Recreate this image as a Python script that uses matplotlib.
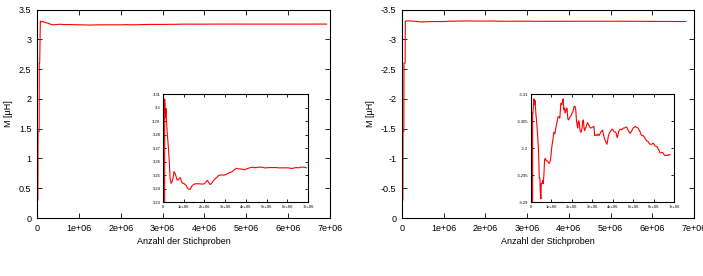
import matplotlib
matplotlib.use("Agg")
import matplotlib.pyplot as plt

plt.rcParams['font.family'] = ['Liberation Sans', 'DejaVu Sans']

# ---- data (x in millions of samples) ----
left_x = [0, 0.003, 0.022, 0.025, 0.052, 0.055, 0.065, 0.08, 0.11, 0.145, 0.177, 0.21, 0.26, 0.31,
          0.34, 0.39, 0.43, 0.48, 0.53, 0.58, 0.63, 0.68, 0.72, 0.79, 0.84, 0.89, 0.95, 1.0, 1.06,
          1.11, 1.17, 1.24, 1.32, 1.37, 1.43, 1.51, 1.59, 1.67, 1.75, 1.85, 1.93, 2.0, 2.08, 2.14,
          2.2, 2.27, 2.33, 2.4, 2.48, 2.54, 2.61, 2.67, 2.77, 2.86, 2.96, 3.06, 3.15, 3.25, 3.35,
          3.44, 3.54, 3.64, 3.73, 3.83, 3.93, 4.02, 4.12, 4.22, 4.31, 4.41, 4.51, 4.6, 4.7, 4.8,
          4.89, 4.99, 5.09, 5.18, 5.28, 5.38, 5.47, 5.57, 5.66, 5.76, 5.86, 5.95, 6.05, 6.15,
          6.24, 6.34, 6.44, 6.53, 6.63, 6.73, 6.82, 6.92]
left_y = [0, 0.3, 0.3, 1.45, 1.45, 2.6, 2.6, 3.3062, 3.2925, 3.2988, 3.2875, 3.28, 3.27, 3.2575,
          3.2475, 3.2438, 3.245, 3.2475, 3.2525, 3.2513, 3.2488, 3.2463, 3.2463, 3.2475, 3.248,
          3.245, 3.2438, 3.2438, 3.243, 3.2425, 3.2405, 3.2395, 3.2395, 3.2413, 3.2425, 3.2433,
          3.2435, 3.2435, 3.2435, 3.2433, 3.2433, 3.2435, 3.245, 3.246, 3.2445, 3.243, 3.2435,
          3.245, 3.2468, 3.2475, 3.2483, 3.2495, 3.25, 3.25, 3.25, 3.2505, 3.2513, 3.252, 3.2525,
          3.2538, 3.255, 3.2545, 3.2545, 3.2543, 3.2538, 3.2545, 3.255, 3.2555, 3.2558, 3.2555,
          3.2555, 3.2558, 3.2558, 3.2558, 3.2553, 3.2553, 3.2555, 3.2555, 3.2555, 3.2555, 3.2555,
          3.2553, 3.2553, 3.2553, 3.2553, 3.2553, 3.2553, 3.255, 3.2548, 3.2553, 3.2555, 3.2553,
          3.2558, 3.2558, 3.2558, 3.2553]

right_x = [0, 0.003, 0.022, 0.025, 0.045, 0.048, 0.075, 0.081, 0.097, 0.146, 0.179, 0.195, 0.244,
           0.276, 0.325, 0.373, 0.406, 0.438, 0.455, 0.487, 0.503, 0.536, 0.568, 0.601, 0.633,
           0.666, 0.698, 0.731, 0.763, 0.812, 0.860, 0.909, 0.958, 0.990, 1.023, 1.071, 1.120,
           1.169, 1.218, 1.266, 1.315, 1.364, 1.412, 1.461, 1.510, 1.542, 1.575, 1.607, 1.640,
           1.672, 1.705, 1.737, 1.769, 1.802, 1.834, 1.867, 1.916, 1.964, 2.013, 2.062, 2.110,
           2.159, 2.192, 2.224, 2.256, 2.289, 2.321, 2.354, 2.403, 2.451, 2.500, 2.532, 2.565,
           2.597, 2.630, 2.662, 2.695, 2.727, 2.776, 2.825, 2.857, 2.890, 2.938, 2.987, 3.036,
           3.084, 3.117, 3.149, 3.182, 3.231, 3.279, 3.328, 3.377, 3.425, 3.474, 3.506, 3.539,
           3.571, 3.620, 3.669, 3.718, 3.750, 3.782, 3.831, 3.880, 3.929, 3.977, 4.026, 4.075,
           4.123, 4.172, 4.221, 4.253, 4.286, 4.334, 4.383, 4.432, 4.481, 4.529, 4.578, 4.627,
           4.675, 4.708, 4.756, 4.805, 4.854, 4.903, 4.951, 5.000, 5.049, 5.097, 5.146, 5.195,
           5.244, 5.292, 5.341, 5.390, 5.438, 5.487, 5.536, 5.584, 5.633, 5.682, 5.731, 5.779,
           5.828, 5.877, 5.925, 5.974, 6.023, 6.071, 6.120, 6.169, 6.218, 6.266, 6.315, 6.364,
           6.412, 6.461, 6.510, 6.558, 6.607, 6.656, 6.705, 6.753, 6.802]
right_y = [0, -0.3, -0.3, -1.45, -1.45, -2.6, -2.6, -3.3065, -3.3065, -3.3091, -3.3080, -3.3088,
           -3.3062, -3.3049, -3.3024, -3.2993, -3.2944, -3.2944, -3.2919, -3.2906, -3.2934,
           -3.2934, -3.2940, -3.2934, -3.2950, -3.2978, -3.2981, -3.2978, -3.2976, -3.2976,
           -3.2972, -3.2972, -3.2978, -3.2990, -3.3003, -3.3015, -3.3029, -3.3026, -3.3038,
           -3.3046, -3.3057, -3.3058, -3.3055, -3.3083, -3.3080, -3.3086, -3.3091, -3.3071,
           -3.3074, -3.3065, -3.3068, -3.3074, -3.3073, -3.3055, -3.3052, -3.3054, -3.3058,
           -3.3060, -3.3065, -3.3068, -3.3077, -3.3077, -3.3071, -3.3052, -3.3043, -3.3037,
           -3.3050, -3.3050, -3.3032, -3.3029, -3.3037, -3.3050, -3.3052, -3.3037, -3.3032,
           -3.3037, -3.3038, -3.3043, -3.3047, -3.3043, -3.3040, -3.3038, -3.3037, -3.3038,
           -3.3039, -3.3040, -3.3023, -3.3024, -3.3024, -3.3023, -3.3026, -3.3023, -3.3026,
           -3.3030, -3.3032, -3.3033, -3.3027, -3.3021, -3.3015, -3.3011, -3.3007, -3.3013,
           -3.3021, -3.3027, -3.3030, -3.3033, -3.3035, -3.3033, -3.3030, -3.3030, -3.3027,
           -3.3019, -3.3023, -3.3030, -3.3033, -3.3035, -3.3034, -3.3035, -3.3037, -3.3037,
           -3.3038, -3.3039, -3.3037, -3.3033, -3.3030, -3.3027, -3.3030, -3.3033, -3.3037,
           -3.3038, -3.3040, -3.3039, -3.3038, -3.3037, -3.3033, -3.3030, -3.3025, -3.3023,
           -3.3023, -3.3021, -3.3018, -3.3015, -3.3013, -3.3012, -3.3009, -3.3007, -3.3007,
           -3.3007, -3.3009, -3.3007, -3.3004, -3.3003, -3.3003, -3.2999, -3.2996, -3.2991,
           -3.2991, -3.2992, -3.2991, -3.2988, -3.2986, -3.2986, -3.2987, -3.2986, -3.2988,
           -3.2987]

x_ticks = [0, 1e6, 2e6, 3e6, 4e6, 5e6, 6e6, 7e6]
x_ticklabels = ['0', '1e+06', '2e+06', '3e+06', '4e+06', '5e+06', '6e+06', '7e+06']
left_yticks = [0, 0.5, 1, 1.5, 2, 2.5, 3, 3.5]
left_yticklabels = ['0', '0.5', '1', '1.5', '2', '2.5', '3', '3.5']
right_yticks = [0, -0.5, -1, -1.5, -2, -2.5, -3, -3.5]
right_yticklabels = ['0', '-0.5', '-1', '-1.5', '-2', '-2.5', '-3', '-3.5']
left_inset_yticks = [3.23, 3.24, 3.25, 3.26, 3.27, 3.28, 3.29, 3.3, 3.31]
left_inset_yticklabels = ['3.23', '3.24', '3.25', '3.26', '3.27', '3.28', '3.29', '3.3', '3.31']
right_inset_yticks = [-3.29, -3.295, -3.3, -3.305, -3.31]
right_inset_yticklabels = ['-3.29', '-3.295', '-3.3', '-3.305', '-3.31']
xlabel = 'Anzahl der Stichproben'
ylabel = 'M [µH]'

LX = [v * 1e6 for v in left_x]
RX = [v * 1e6 for v in right_x]

fig = plt.figure(figsize=(7.03, 2.76), dpi=100)

def style(ax, fs, tl, pad):
    ax.tick_params(direction='in', top=True, right=True, length=tl, width=0.6,
                   labelsize=fs, pad=pad, colors='black')
    for s in ax.spines.values():
        s.set_linewidth(0.8)

# main axes
axL = fig.add_axes([0.0526, 0.2101, 0.4168, 0.7554])
axR = fig.add_axes([0.5718, 0.2101, 0.4154, 0.7554])
for ax, X, Y, yt, ytl, ylim in [(axL, LX, left_y, left_yticks, left_yticklabels, (0, 3.5)),
                                (axR, RX, right_y, right_yticks, right_yticklabels, (0, -3.5))]:
    ax.plot(X, Y, color='#ff0000', lw=0.8)
    ax.set_xlim(0, 7e6)
    ax.set_ylim(*ylim)
    ax.set_xticks(x_ticks)
    ax.set_xticklabels(x_ticklabels)
    ax.set_yticks(yt)
    ax.set_yticklabels(ytl)
    style(ax, 6.5, 3.5, 4)
    ax.set_xlabel(xlabel, fontsize=6.5, labelpad=3)
    ax.set_ylabel(ylabel, fontsize=6.5, labelpad=4)

# insets
inL = fig.add_axes([0.2319, 0.2681, 0.2063, 0.3913])
inR = fig.add_axes([0.7553, 0.2681, 0.2034, 0.3913])
for ax, X, Y, yt, ytl, ylim in [(inL, LX, left_y, left_inset_yticks, left_inset_yticklabels, (3.23, 3.31)),
                                (inR, RX, right_y, right_inset_yticks, right_inset_yticklabels, (-3.29, -3.31))]:
    ax.plot(X, Y, color='#ff0000', lw=0.8)
    ax.set_xlim(0, 7e6)
    ax.set_ylim(*ylim)
    ax.set_xticks(x_ticks)
    ax.set_xticklabels(x_ticklabels)
    ax.set_yticks(yt)
    ax.set_yticklabels(ytl)
    style(ax, 3, 2, 2)

fig.savefig('out.png', dpi=100)
